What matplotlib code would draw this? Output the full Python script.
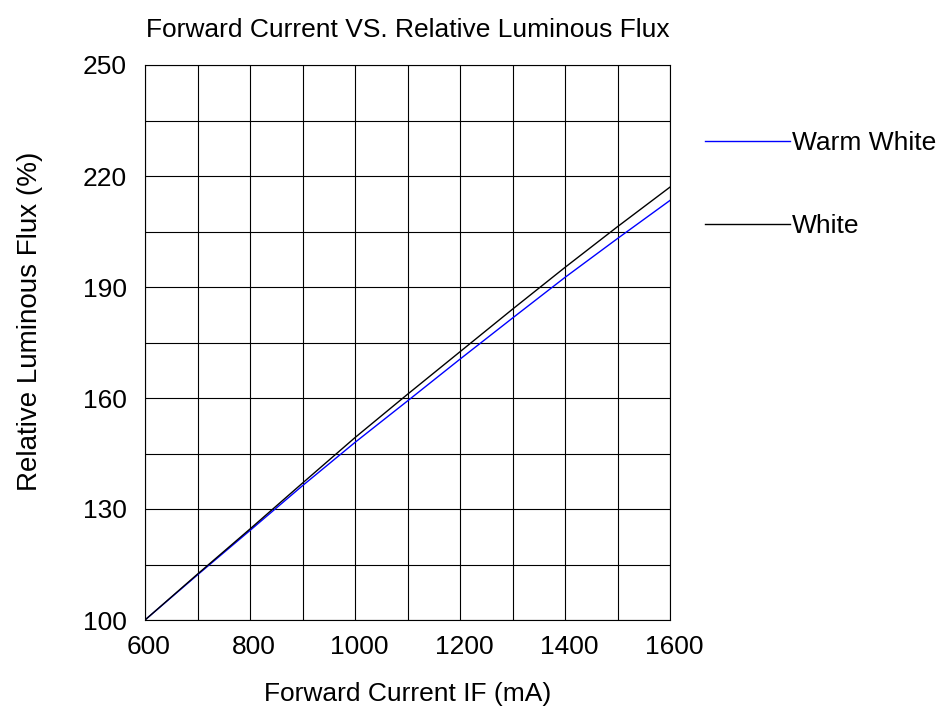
import matplotlib
matplotlib.use('Agg')
import matplotlib.pyplot as plt
from matplotlib.transforms import ScaledTranslation

# Values
current_ma = [600, 700, 800, 900, 1000, 1100, 1200, 1300, 1400, 1500, 1600]
white_flux = [100, 112.4, 124.6, 137.0, 149.3, 161.0, 172.5, 184.0, 195.3, 206.3, 217.0]
warm_white_flux = [100, 112.2, 124.2, 136.3, 148.0, 159.2, 170.5, 181.6, 192.6, 203.1, 213.4]

x_ticks = [600, 800, 1000, 1200, 1400, 1600]
y_ticks = [100, 130, 160, 190, 220, 250]

plt.rcParams['font.family'] = ['Liberation Sans', 'DejaVu Sans']

fig = plt.figure(figsize=(9.39, 7.17), dpi=100)
ax = fig.add_axes([145 / 939, 97 / 717, 525 / 939, 555 / 717])

ax.plot(current_ma, warm_white_flux, color='#0000ff', lw=1.0, label='Warm White')
ax.plot(current_ma, white_flux, color='black', lw=1.0, label='White')

ax.set_xlim(600, 1600)
ax.set_ylim(100, 250)
ax.set_xticks(x_ticks)
ax.set_yticks(y_ticks)
ax.set_xticks(range(600, 1601, 100), minor=True)
ax.set_yticks(range(100, 251, 15), minor=True)
ax.grid(which='both', color='black', lw=0.8)
ax.tick_params(which='both', length=0)
ax.tick_params(axis='x', labelsize=19, pad=11)
ax.tick_params(axis='y', labelsize=19, pad=13)
for s in ax.spines.values():
    s.set_linewidth(0.8)

# x labels sit a little right of their grid lines in the original
shift = ScaledTranslation(4 / 100, 0, fig.dpi_scale_trans)
for lbl in ax.get_xticklabels():
    lbl.set_transform(lbl.get_transform() + shift)

ax.set_xlabel('Forward Current IF (mA)', fontsize=19, labelpad=16)
ax.set_ylabel('Relative Luminous Flux (%)', fontsize=20)
ax.yaxis.set_label_coords(-0.194, 0.539)
ax.set_title('Forward Current VS. Relative Luminous Flux', fontsize=19, pad=20)

ax.legend(loc='upper left', bbox_to_anchor=(1.067, 0.8814), frameon=False,
          fontsize=19, handlelength=3.2, handletextpad=0.1,
          labelspacing=2.25, borderpad=0, borderaxespad=0)

fig.savefig('out.png', dpi=100)
